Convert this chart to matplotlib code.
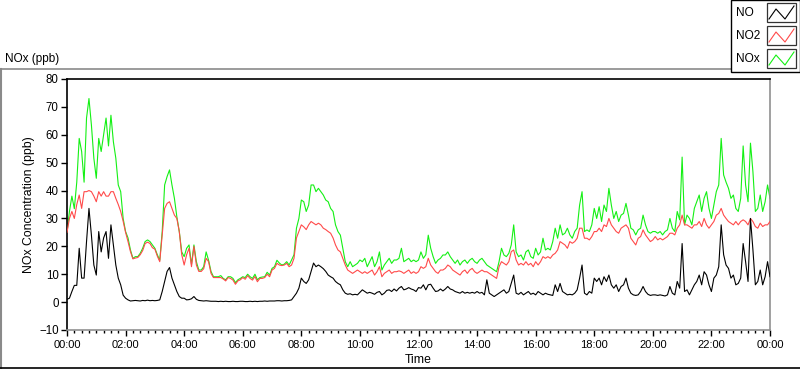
import matplotlib
matplotlib.use("Agg")
import matplotlib.pyplot as plt
import numpy as np
from matplotlib.lines import Line2D
from matplotlib.patches import Rectangle
from matplotlib.ticker import MultipleLocator

plt.rcParams["font.family"] = ["Liberation Sans", "DejaVu Sans"]

# 5-minute samples, one row per hour, last value at 24:00
nox = [
    25, 32.5, 38, 33.5, 43, 58.7, 54, 43, 66, 73, 63.5, 51.6,
    44.4, 58.7, 54, 60, 66, 56, 67, 57.5, 51.6, 42, 39.6, 30,
    25.3, 23, 18.7, 15.7, 16.3, 16.3, 17.5, 19.3, 21.7, 22.3, 21.7, 20.5,
    19.3, 17, 15, 25.3, 42, 45, 47.4, 42, 37.2, 30.6, 25.3, 18,
    16.3, 19.3, 20.5, 13.5, 20.5, 14.5, 11.5, 11.5, 12.7, 18, 15, 11,
    9.1, 9.1, 9.1, 9.5, 8.5, 8, 9.1, 9.1, 8.5, 7, 8, 8.5,
    9.1, 8.8, 10, 9.1, 8.5, 10, 8, 8.8, 9.0, 9.1, 10.7, 9.7,
    12.1, 12.7, 15, 14, 13.3, 13.6, 14.5, 13.3, 15.1, 17, 26.5, 30,
    36.6, 36, 32.5, 34.8, 42, 42, 39.6, 40.8, 39.6, 38.4, 36.6, 36,
    33.6, 32.5, 27.7, 25.3, 24, 19.3, 14.5, 12.7, 14.5, 12.7, 13.3, 13.9,
    15.1, 14.5, 15.7, 12.7, 14.5, 16.3, 12.7, 14.5, 18, 11.5, 13.3, 14.5,
    15.7, 13.9, 15.1, 15.1, 15.7, 19.3, 14.5, 15.1, 15.7, 14.5, 15.1, 14.5,
    15.1, 18, 15.7, 17, 24, 19.3, 16.3, 13.9, 15.1, 15.7, 16.9, 16.9,
    18, 16.3, 15.1, 13.9, 15.1, 13.3, 14.5, 15.1, 13.9, 15.1, 15.7, 14.5,
    13.9, 15.1, 15.7, 14.5, 13.3, 12.7, 12.1, 11.5, 10.9, 14.5, 19.3, 16.9,
    16.3, 17.5, 20.5, 27.7, 18, 16.3, 16.9, 15.1, 18, 18.7, 16.3, 15.7,
    19.3, 16.9, 18, 22.9, 18.7, 19.3, 18.7, 21.7, 26.5, 22.9, 27.7, 24.1,
    24.7, 26.5, 24.1, 22.9, 25.3, 26.5, 34.8, 39.6, 25.3, 25.9, 25.3, 27.7,
    33.6, 30, 34.2, 28.9, 34.8, 32.5, 40.8, 34.8, 30, 32.5, 28.9, 31.2,
    31.8, 35.4, 31.2, 26.5, 25.9, 24.1, 25.9, 26.5, 31.2, 27.7, 25.3, 24.7,
    25.3, 25.3, 24.7, 25.3, 24.1, 25.3, 25.9, 30, 26.5, 25.3, 32.5, 29.5,
    52, 27.7, 31.2, 30, 27.7, 33.6, 36, 38.4, 32.5, 37.2, 39.6, 33.6,
    30, 34.8, 39.6, 42, 58.7, 45.6, 43, 40.8, 37.2, 38.4, 33.6, 32.5,
    37.2, 56, 42, 36, 57, 46.8, 32.5, 33.6, 38.4, 32.5, 36, 42,
    37.2,
]
no2 = [
    25, 30, 32.5, 30, 35, 38.4, 33.6, 39.6, 39.6, 40, 39.6, 38,
    36, 39.6, 38, 39.6, 38, 38, 39.6, 39.6, 37.2, 35, 32.5, 29,
    25, 21.7, 18.1, 15.5, 15.8, 16, 17, 18.5, 21, 21.5, 21, 19.5,
    19, 16.5, 14.5, 24, 33.6, 35.4, 36, 33.6, 31.2, 30, 25.3, 17,
    13.3, 17, 19.3, 12.7, 20, 13.3, 11, 11, 12, 15.7, 14.5, 10.3,
    8.8, 8.8, 8.8, 8.8, 8.3, 7.6, 8.8, 8.5, 7.9, 6.4, 7.6, 8,
    8.8, 8.2, 9.5, 8.5, 7.9, 9.2, 7.3, 8.5, 8.5, 8.8, 10, 9.1,
    11.5, 12.1, 13.9, 13.3, 13.1, 13.3, 13.9, 12.7, 13.3, 15.7, 23, 25.3,
    27.7, 27, 26, 27.7, 28.9, 28.3, 27.7, 28.3, 27.7, 26.5, 26, 25.3,
    24.7, 23, 20.5, 18.7, 18, 15.7, 13.3, 11.5, 10.9, 10.3, 10.9, 11.5,
    10.9, 10.3, 10.9, 10.3, 10.9, 11.5, 9.7, 10.9, 12.7, 9.1, 10.3, 10.9,
    11.5, 10.3, 10.9, 10.9, 11.2, 10.9, 10.3, 10.9, 11.5, 10.3, 10.9, 10.3,
    10.9, 12.7, 12.1, 12.7, 15.7, 13.3, 12.1, 10.9, 10.3, 11.5, 11.5, 12.1,
    13.3, 12.7, 11.5, 10.9, 10.3, 9.7, 10.9, 11.5, 10.3, 11.5, 12.1, 10.9,
    10.3, 10.9, 11.5, 10.9, 10.9, 10.3, 9.7, 9.1, 8.5, 12.7, 14.5, 13.9,
    13.3, 14.5, 18.1, 18.7, 15.1, 13.3, 13.9, 13.3, 14.5, 13.3, 13.9, 12.7,
    14.5, 13.3, 14.5, 16.3, 15.7, 16.3, 15.7, 16.9, 17.5, 18.7, 21.7, 21.1,
    20.5, 19.3, 21.7, 21.1, 21.7, 22.9, 26.5, 26.5, 22.9, 22.9, 22.3, 23.5,
    25.3, 25.3, 26.5, 25.3, 27.7, 27.1, 30, 27.7, 26.5, 25.3, 24.7, 26.5,
    27.1, 27.7, 26.5, 22.9, 21.7, 20.5, 22.9, 23.5, 25.9, 24.1, 22.9, 21.7,
    22.3, 23.5, 22.3, 22.9, 22.3, 22.9, 23.5, 24.7, 24.7, 24.1, 26.5, 27.7,
    31.2, 27.7, 27.7, 27.1, 26.5, 27.7, 27.7, 28.9, 27.1, 30, 27.7, 26.5,
    27.7, 28.9, 31.2, 31.8, 33.6, 31.2, 30, 28.9, 28.3, 27.7, 28.9, 27.7,
    28.9, 29.5, 28.9, 27.7, 30, 28.9, 27.1, 26.5, 28.3, 27.1, 27.7, 27.7,
    28.9,
]
no = [
    1, 1.4, 3.8, 6, 6, 19.3, 8.6, 8.6, 21.7, 33.6, 24, 13.3,
    9.7, 25.3, 18, 23, 25.3, 15.7, 27.7, 20.5, 13.3, 8.6, 6.2, 2.5,
    1.4, 0.8, 0.4, 0.5, 0.6, 0.5, 0.4, 0.6, 0.5, 0.7, 0.5, 0.6,
    0.5, 0.6, 0.8, 3.8, 7.4, 11, 12.4, 8.6, 6.2, 3.8, 2, 1.4,
    1.4, 0.8, 0.9, 1.2, 2, 1.0, 0.6, 0.5, 0.4, 0.5, 0.4, 0.3,
    0.3, 0.3, 0.2, 0.3, 0.2, 0.3, 0.2, 0.2, 0.3, 0.2, 0.2, 0.3,
    0.3, 0.2, 0.2, 0.3, 0.2, 0.3, 0.2, 0.3, 0.3, 0.4, 0.3, 0.4,
    0.4, 0.4, 0.5, 0.5, 0.4, 0.5, 0.5, 0.6, 0.8, 2, 3.2, 5,
    8.6, 7.4, 6.7, 8, 11, 14, 12.7, 13.3, 12.7, 12, 11, 9.7,
    9.1, 8.6, 7.4, 6.7, 6.2, 4.4, 3.2, 2.8, 3.0, 2.6, 2.8, 2.6,
    3.5, 4.4, 3.8, 3.2, 3.5, 3.2, 2.8, 3.5, 3.8, 2.6, 3.2, 4.2,
    4.4, 3.8, 4.7, 4.0, 5.0, 5.6, 4.4, 4.7, 5.2, 4.7, 4.4, 3.8,
    5.2, 5.0, 6.2, 4.4, 6.2, 6.4, 5.0, 3.8, 4.0, 4.7, 4.0, 4.7,
    5.6, 4.7, 4.4, 3.8, 3.5, 3.2, 3.8, 3.2, 3.5, 3.2, 3.5, 3.2,
    3.8, 3.2, 3.5, 2.6, 8, 3.2, 2.6, 2.0, 2.6, 3.2, 3.8, 4.4,
    3.2, 3.8, 6.7, 9.7, 3.2, 2.8, 3.5, 2.6, 3.2, 3.8, 2.8, 3.2,
    2.6, 3.8, 3.2, 2.6, 3.2, 2.8, 2.6, 2.4, 6.2, 3.8, 6.7, 3.8,
    3.2, 2.6, 2.8, 2.6, 3.2, 4.4, 8.6, 13.3, 3.2, 2.6, 3.8, 3.2,
    8.6, 7.4, 8.6, 6.2, 9.1, 7.4, 9.7, 6.2, 5.0, 6.2, 3.8, 5.6,
    6.2, 8.6, 5, 3.2, 2.6, 2.4, 2.6, 3.8, 5.6, 3.8, 2.8, 2.4,
    2.6, 2.6, 2.4, 2.6, 2.4, 2.2, 2.6, 5.6, 3.2, 2.6, 7.4, 5,
    21, 3.8, 4.4, 2.6, 4.4, 6.2, 7.4, 9.7, 6.2, 10.9, 9.7, 6.2,
    3.8, 8.6, 9.7, 12.7, 27.7, 17, 13.3, 12.1, 8.6, 9.7, 6.2, 6.7,
    8.6, 21, 14.5, 7.4, 30, 18.8, 6.2, 7.4, 11.5, 6.2, 9.1, 14.5,
    9.1,
]
hours = np.arange(len(no)) * 5 / 60

tick_hours = [0, 2, 4, 6, 8, 10, 12, 14, 16, 18, 20, 22, 24]
tick_labels = ["00:00", "02:00", "04:00", "06:00", "08:00", "10:00", "12:00",
               "14:00", "16:00", "18:00", "20:00", "22:00", "00:00"]
series_names = ["NO", "NO2", "NOx"]
series_colors = ["#000000", "#ff4a4a", "#14f014"]

W, H = 800, 369


def fx(x):
    return x / W


def fy(y):
    return 1 - y / H


fig = plt.figure(figsize=(8, 3.69), dpi=100)
ax = fig.add_axes([fx(67), fy(330), 703 / W, 251 / H])

ax.plot(hours, nox, color=series_colors[2], lw=0.8, zorder=2)
ax.plot(hours, no2, color=series_colors[1], lw=0.8, zorder=3)
ax.plot(hours, no, color=series_colors[0], lw=0.8, zorder=4)

ax.set_xlim(0, 24)
ax.set_ylim(-10, 80)
ax.set_xticks(tick_hours)
ax.set_xticklabels(tick_labels)
ax.xaxis.set_minor_locator(MultipleLocator(0.25))
ax.yaxis.set_major_locator(MultipleLocator(10))
ax.tick_params(axis="x", which="major", length=4, width=1, pad=3.5, labelsize=8)
ax.tick_params(axis="x", which="minor", length=2.2, width=1)
ax.tick_params(axis="y", length=4.5, width=1, pad=1.5, labelsize=8.3)

ax.spines["left"].set_color("black")
ax.spines["top"].set_color("black")
ax.spines["bottom"].set_color("#909090")
ax.spines["right"].set_color("#909090")
for s in ax.spines.values():
    s.set_linewidth(1.2)

ax.set_ylabel("NOx Concentration (ppb)", fontsize=8.8, labelpad=3)
ax.set_xlabel("Time", fontsize=8.8, labelpad=2.5)

# outer frame
fig.add_artist(Line2D([fx(0), fx(800)], [fy(69), fy(69)], color="#8a8a8a", lw=1.2,
                      transform=fig.transFigure))
fig.add_artist(Line2D([fx(1), fx(1)], [fy(69), fy(368)], color="#8a8a8a", lw=1.5,
                      transform=fig.transFigure))
fig.add_artist(Line2D([fx(0), fx(800)], [fy(368), fy(368)], color="black", lw=1.2,
                      transform=fig.transFigure))

fig.text(fx(5), fy(59), "NOx (ppb)", fontsize=8.5, va="center", ha="left")

# legend box
fig.add_artist(Rectangle((fx(731), fy(72)), 69 / W, 72 / H, transform=fig.transFigure,
                         facecolor="white", edgecolor="black", lw=1.0, zorder=5))
for i, (name, col) in enumerate(zip(series_names, series_colors)):
    top = 3 + i * 23
    fig.text(fx(736), fy(top + 10), name, fontsize=8.6, va="center", ha="left", zorder=6)
    fig.add_artist(Rectangle((fx(767), fy(top + 19)), 29 / W, 19 / H,
                             transform=fig.transFigure, facecolor="white",
                             edgecolor="#333333", lw=0.9, zorder=6))
    zx = [769, 776, 785, 794]
    zy = [top + 16, top + 6, top + 16, top + 3]
    fig.add_artist(Line2D([fx(v) for v in zx], [fy(v) for v in zy], color=col, lw=0.8,
                          transform=fig.transFigure, zorder=7))

fig.savefig("out.png", dpi=100)
